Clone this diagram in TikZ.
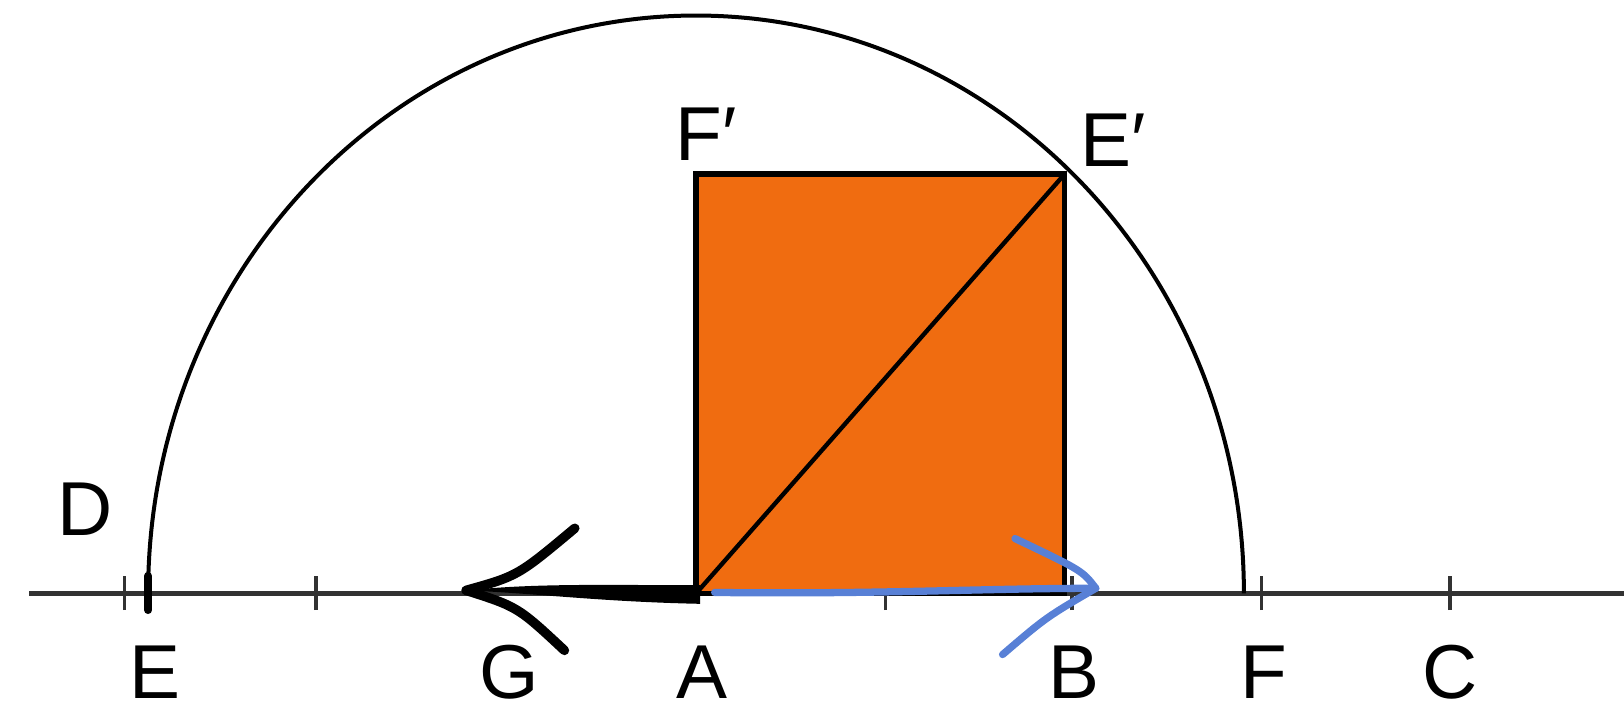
\documentclass[tikz,border=0pt]{standalone}
\usepackage{fontspec}
\setmainfont{Liberation Sans}
\definecolor{squarefill}{RGB}{240,108,16}
\definecolor{penblue}{RGB}{88,128,214}
\definecolor{axisgray}{RGB}{50,50,50}
\tikzset{
  lbl/.style={font=\fontsize{21}{24}\selectfont, inner sep=0pt},
  tick/.style={line width=0.9pt, draw=axisgray},
  pen/.style={line cap=round, line join=round}
}
\begin{document}
\begin{tikzpicture}
\useasboundingbox (0,0) rectangle (15.68,7.01);
% points on the line
\coordinate (A) at (6.72,1.28);
\coordinate (B) at (10.32,1.28);
\coordinate (E) at (1.43,1.28);
\coordinate (Ep) at (10.28,5.33);
\coordinate (Fp) at (6.70,5.33);
\coordinate (Gtip) at (4.50,1.31);
\coordinate (Btip) at (10.58,1.33);
% the line and its ticks
\draw[line width=1.2pt, draw=axisgray] (0.28,1.28) -- (15.68,1.28);
\foreach \x in {1.20,3.05,8.55,10.35,12.18,14.00}
  \draw[tick] (\x,1.12) -- (\x,1.45);
\draw[line width=2.2pt, line cap=round] (1.43,1.12) -- (1.43,1.45);
% square and diagonal
\draw[line width=1.4pt, fill=squarefill] (A) rectangle (Ep);
\draw[line width=1.2pt] (A) -- (Ep);
% arc through E'
\draw[line width=1.1pt] (E) arc[start angle=180, end angle=0, x radius=5.29, y radius=5.58];
% hand drawn arrows
\fill (6.76,1.36) .. controls (5.8,1.36) and (5.2,1.38) .. (Gtip)
  .. controls (5.2,1.28) and (5.8,1.20) .. (6.76,1.18) -- cycle;
\draw[pen, line width=2.6pt] (5.55,1.91) .. controls (5.0,1.45) .. (Gtip)
  .. controls (5.0,1.15) .. (5.45,0.73);
\draw[pen, line width=2pt, draw=penblue] (6.90,1.29) .. controls (8.5,1.27) and (9.5,1.33) .. (Btip);
\draw[pen, line width=2pt, draw=penblue] (9.80,1.81) .. controls (10.45,1.5) .. (Btip)
  .. controls (10.1,1.05) .. (9.68,0.69);
% labels
\node[lbl] (lblD) at (0.82,2.09) {D};
\node[lbl] (lblE) at (1.50,0.52) {E};
\node[lbl] (lblG) at (4.92,0.52) {G};
\node[lbl] (lblA) at (6.78,0.52) {A};
\node[lbl] (lblB) at (10.37,0.52) {B};
\node[lbl] (lblF) at (12.20,0.52) {F};
\node[lbl] (lblC) at (14.00,0.52) {C};
\node[lbl] (lblFp) at (6.82,5.71) {F′};
\node[lbl] (lblEp) at (10.75,5.66) {E′};
\end{tikzpicture}
\end{document}
